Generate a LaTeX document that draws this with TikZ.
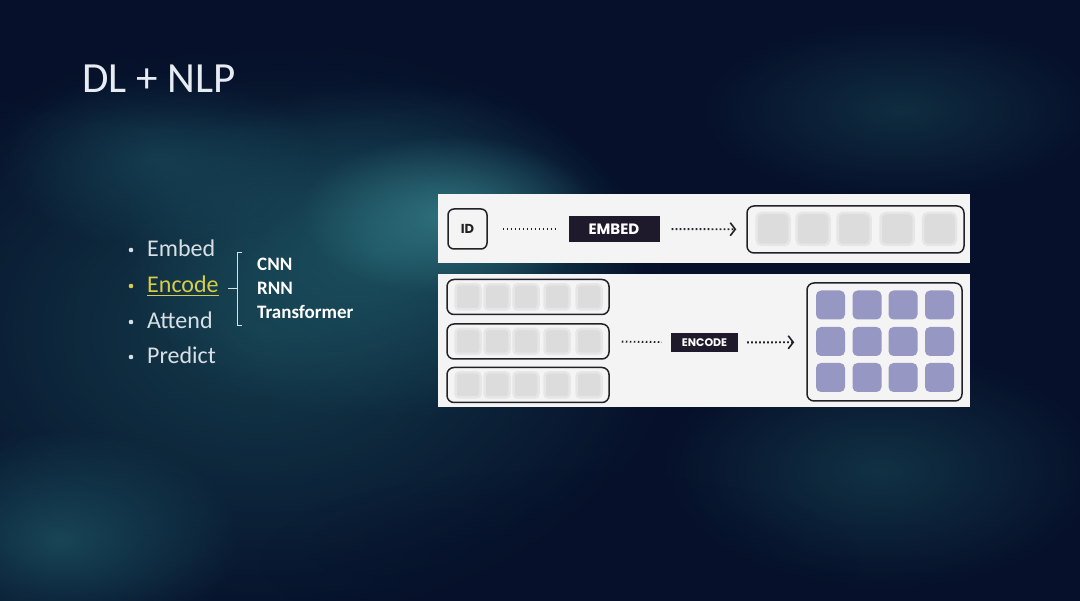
\documentclass[tikz,border=0pt]{standalone}
\usepackage{fontspec}
\setmainfont{Carlito}
\newfontfamily\pop{Poppins}
\usetikzlibrary{arrows.meta,fadings}
\definecolor{bgc}{HTML}{06102A}
\definecolor{tealA}{HTML}{1F5A68}
\definecolor{tealB}{HTML}{3A8590}
\definecolor{tealC}{HTML}{16404F}
\definecolor{titlec}{HTML}{E6ECF2}
\definecolor{listc}{HTML}{D8E0E6}
\definecolor{yel}{HTML}{D8CC48}
\definecolor{panelc}{HTML}{F4F4F5}
\definecolor{ink}{HTML}{222226}
\definecolor{tagc}{HTML}{1E1A2C}
\definecolor{greyc}{HTML}{DCDCDC}
\definecolor{greyo}{HTML}{E6E6E6}
\definecolor{purc}{HTML}{9797C3}
\tikzfading[name=glowfade, inner color=transparent!0, outer color=transparent!100]
\begin{document}
\begin{tikzpicture}[x=1pt,y=-1pt,
  glow/.style={path fading=glowfade},
  bullet/.style={circle, fill=#1, inner sep=0pt, minimum size=4.6pt},
  itemtxt/.style={anchor=base west, text=listc, font=\fontsize{24}{24}\selectfont},
  subtxt/.style={anchor=base west, text=white, font=\bfseries\fontsize{19}{19}\selectfont},
  panel/.style={fill=panelc, inner sep=0pt},
  frame/.style={draw=ink, line width=1.5pt, rounded corners=7pt, inner sep=0pt},
  tag/.style={fill=tagc, text=white, inner sep=0pt, font=\pop\bfseries},
  cellg/.style={fill=greyc, draw=greyo, line width=2.5pt, rounded corners=5pt, inner sep=0pt},
  cellp/.style={fill=purc, rounded corners=5pt, inner sep=0pt, minimum width=29pt, minimum height=29pt},
  dots/.style={draw=ink, line width=1.9pt, dash pattern=on 1.6pt off 2.4pt},
  chev/.style={-{Straight Barb[length=5pt,width=13pt,line width=1.6pt]}}
]
% background
\fill[bgc] (0,0) rectangle (1080,601);
\useasboundingbox (0,0) rectangle (1080,601);
\fill[tealC, glow, fill opacity=0.9] (260,330) ellipse [x radius=420pt, y radius=300pt];
\fill[tealA, glow, fill opacity=0.8] (380,250) ellipse [x radius=260pt, y radius=170pt];
\fill[tealB, glow, fill opacity=0.7] (450,215) ellipse [x radius=150pt, y radius=80pt];
\fill[tealA, glow, fill opacity=0.7] (60,540) ellipse [x radius=180pt, y radius=110pt];
\fill[tealC, glow, fill opacity=0.7] (880,470) ellipse [x radius=220pt, y radius=120pt];
\fill[tealC, glow, fill opacity=0.6] (900,110) ellipse [x radius=200pt, y radius=90pt];
\fill[tealA, glow, fill opacity=0.5] (160,160) ellipse [x radius=160pt, y radius=90pt];
\fill[bgc, glow, fill opacity=0.8] (220,40) ellipse [x radius=300pt, y radius=90pt];
\fill[bgc, glow, fill opacity=0.6] (560,560) ellipse [x radius=300pt, y radius=90pt];

% title
\node[anchor=base west, text=titlec, font=\fontsize{43}{43}\selectfont, inner sep=0pt] (title) at (82,93) {DL + NLP};

% list
\node[bullet=listc] (b1) at (131,250) {};
\node[bullet=yel] (b2) at (131,286) {};
\node[bullet=listc] (b3) at (131,322) {};
\node[bullet=listc] (b4) at (131,357) {};
\node[itemtxt, inner sep=0pt] (embedtxt) at (147,257) {Embed};
\node[itemtxt, inner sep=0pt, text=yel] (encodetxt) at (147,293) {Encode};
\node[itemtxt, inner sep=0pt] (attendtxt) at (147,329) {Attend};
\node[itemtxt, inner sep=0pt] (predicttxt) at (147,364) {Predict};
\draw[yel, line width=1pt] ([yshift=-3pt]encodetxt.base west) -- ([yshift=-3pt]encodetxt.base east);

% brace
\coordinate (brtop) at (242,253);
\coordinate (brbot) at (242,326);
\coordinate (brmid) at (228,289);
\draw[listc, line width=1pt] (brtop) -- (237,253) -- (237,326) -- (brbot);
\draw[listc, line width=1pt] (brmid) -- (237,289);
\node[subtxt, inner sep=0pt] (cnn) at (257,271) {CNN};
\node[subtxt, inner sep=0pt] (rnn) at (257,295) {RNN};
\node[subtxt, inner sep=0pt] (trf) at (257,319) {Transformer};

% panels
\node[panel, minimum width=532pt, minimum height=69pt] (ptop) at (704,228.5) {};
\node[panel, minimum width=532pt, minimum height=133pt] (pbot) at (704,340.5) {};

% top row
\node[frame, minimum width=39pt, minimum height=40pt, rounded corners=6pt, font=\pop\bfseries\fontsize{13}{13}\selectfont, text=ink] (id) at (467.5,229) {ID};
\node[tag, minimum width=91pt, minimum height=26pt, font=\pop\bfseries\fontsize{15}{15}\selectfont] (embed) at (614,229) {EMBED};
\node[frame, minimum width=217pt, minimum height=47pt] (vec) at (855.5,229.5) {};
\foreach \cx [count=\i] in {773,813,854,897,939.5}
  \node[cellg, minimum width=33pt, minimum height=32pt] (v\i) at (\cx,229) {};
\draw[dots, shorten <=15pt, shorten >=13pt] (id) -- (embed);
\draw[dots, chev, shorten <=12pt, shorten >=10pt] (embed) -- (vec);

% bottom row
\foreach \cy [count=\r] in {297,341.5,385}{
  \node[frame, minimum width=162pt, minimum height=35pt] (row\r) at (528,\cy) {};
  \foreach \cx [count=\i] in {468,497,526,557,589}
    \node[cellg, minimum width=25pt, minimum height=25pt, rounded corners=4pt] (r\r c\i) at (\cx,\cy) {};
}
\node[tag, minimum width=67pt, minimum height=19pt, font=\pop\bfseries\fontsize{11}{11}\selectfont] (encode) at (704.5,342.5) {ENCODE};
\node[frame, minimum width=155pt, minimum height=118pt] (mat) at (884.5,342) {};
\foreach \cy [count=\r] in {305,341.5,377.5}
  \foreach \cx [count=\i] in {830.5,867,903,939.5}
    \node[cellp] (m\r\i) at (\cx,\cy) {};
\draw[dots, shorten <=12pt, shorten >=9pt] (row2.east) -- (encode);
\draw[dots, chev, shorten <=9pt, shorten >=12pt] (encode) -- (mat);
\end{tikzpicture}
\end{document}
